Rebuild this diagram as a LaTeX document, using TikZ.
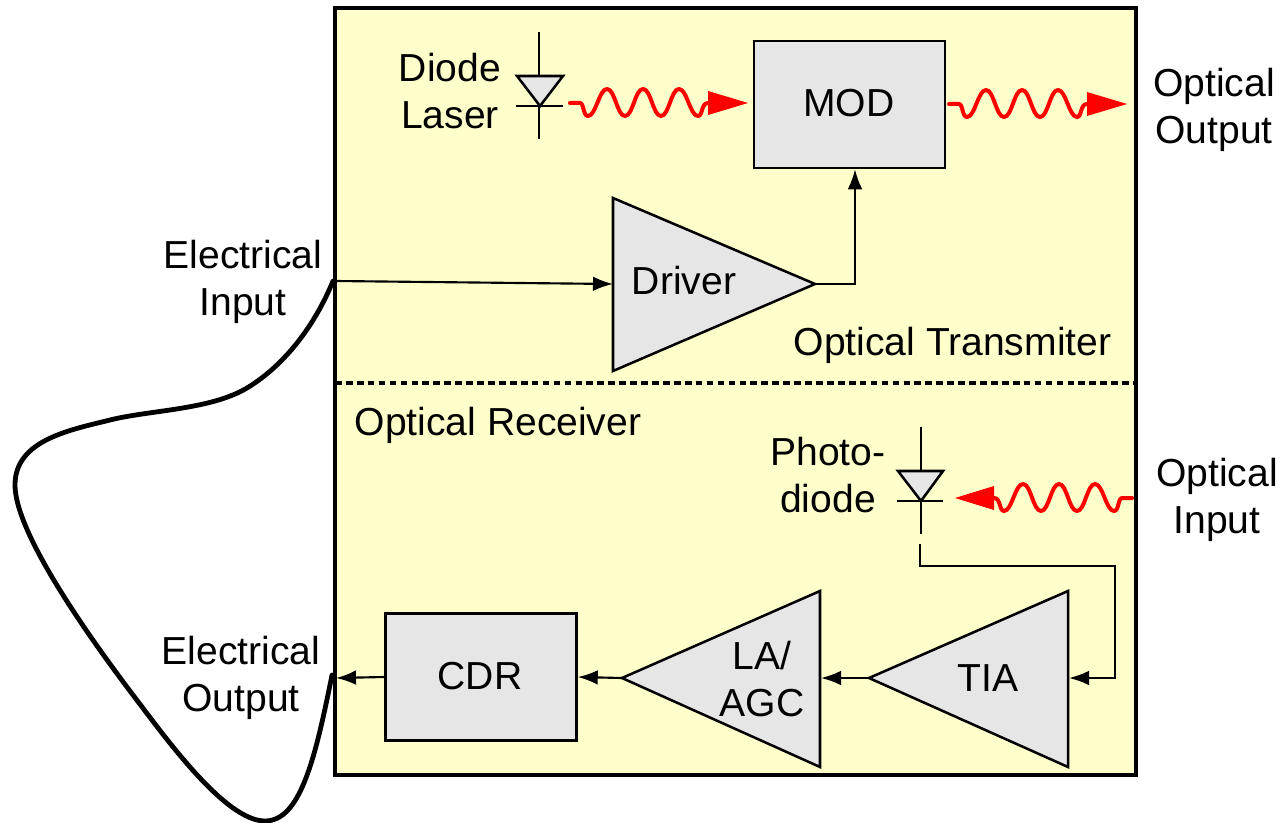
\documentclass[tikz,border=0pt]{standalone}
\usepackage{fontspec}
\setmainfont{Liberation Sans}
\usetikzlibrary{arrows.meta}
\definecolor{panel}{HTML}{FFFFCC}
\definecolor{blockgray}{HTML}{E6E6E6}
\tikzset{
  x=0.75pt,y=-0.75pt,
  label/.style={inner sep=0pt,align=center,font=\fontsize{29.3}{35}\selectfont},
  blockbox/.style={draw=black,fill=blockgray,line width=1.9pt,inner sep=0pt,minimum width=143.25pt,minimum height=95.25pt},
  ampshape/.style={draw=black,fill=blockgray,line width=1.9pt,line join=miter},
  wire/.style={draw=black,line width=1.6pt,-{Latex[length=15pt,width=11pt]}},
  diodeline/.style={draw=black,line width=1.9pt},
  wavered/.style={draw=red,line width=3pt,line cap=round,line join=round},
  loopline/.style={draw=black,line width=3.6pt,line cap=round},
}
\newcommand{\wavecurve}{-- (10,0) .. controls (14,0) and (13,13) .. (18,13)
  .. controls (26,13) and (29,-14) .. (37,-14)
  .. controls (45,-14) and (47,13) .. (55,13)
  .. controls (63,13) and (65,-14) .. (73,-14)
  .. controls (81,-14) and (83,13) .. (91,13)
  .. controls (99,13) and (101,-14) .. (109,-14)
  .. controls (117,-14) and (120,13) .. (128,13)
  .. controls (133,13) and (131,0) .. (138,0)}
\begin{document}
\begin{tikzpicture}
\useasboundingbox (0,0) rectangle (1280,823);
% panel
\draw[fill=panel,draw=black,line width=2.7pt] (335,8) rectangle (1136,775);
\coordinate (inpt) at (335,281);
\coordinate (outpt) at (336,678);
\draw[black,line width=2.7pt,dash pattern=on 5pt off 3.2pt] (335,383) -- (1136,383);
% blocks
\node[blockbox] (mod) at (849.5,104.5) {};
\node[blockbox] (cdr) at (481,677) {};
\node[label] at (849,103) {MOD};
\node[label] at (480,676) {CDR};
% amplifiers
\draw[ampshape] (613,198) -- (613,371) -- (815,284) -- cycle;
\coordinate (drvout) at (815,284);
\coordinate (drvin) at (613,284);
\draw[ampshape] (820,591) -- (820,767) -- (622,678) -- cycle;
\coordinate (laout) at (622,678);
\coordinate (lain) at (821,678);
\draw[ampshape] (1068,591) -- (1068,767) -- (869,678) -- cycle;
\coordinate (tiaout) at (869,678);
\coordinate (tiain) at (1069,678);
\node[label] (drvtxt) at (684,281) {Driver};
\node[label] (latxt) at (762,679) {LA/\\AGC};
\node[label] (tiatxt) at (988,678) {TIA};
% wires
\draw[wire] (inpt) -- (drvin);
\draw[wire] (drvout) -- (855,284) -- (mod.south -| 855,168);
\draw[wire] (cdr.west) -- (outpt);
\draw[wire] (laout) -- (cdr.east);
\draw[wire] (tiaout) -- (lain);
\coordinate (pdlead) at (920,544);
\draw[wire] (pdlead) -- (920,566) -- (1115,566) -- (1115,678) -- (tiain);
% laser diode
\draw[diodeline] (539,32) -- (539,139);
\draw[diodeline,fill=blockgray] (517,76) -- (563,76) -- (540,106) -- cycle;
\draw[diodeline] (516,106) -- (563,106);
% photodiode
\draw[diodeline] (921,427) -- (921,534);
\draw[diodeline,fill=blockgray] (898,471) -- (943,471) -- (921,501) -- cycle;
\draw[diodeline] (897,501) -- (943,501);
% waves
\begin{scope}[shift={(570,103)}]
\draw[wavered] (0,0) \wavecurve;
\fill[red] (138,-12) -- (178,0) -- (138,12) -- cycle;
\end{scope}
\begin{scope}[shift={(949,104)}]
\draw[wavered] (0,0) \wavecurve;
\fill[red] (138,-12) -- (178,0) -- (138,12) -- cycle;
\end{scope}
\begin{scope}[shift={(1132,498)},xscale=-1]
\draw[wavered] (0,0) \wavecurve;
\fill[red] (138,-12) -- (177,0) -- (138,12) -- cycle;
\end{scope}
% loop
\draw[loopline] (333,281) .. controls (315,325) and (285,365) .. (247,388)
  .. controls (210,410) and (150,410) .. (110,420)
  .. controls (70,430) and (15,440) .. (15,485)
  .. controls (15,530) and (80,625) .. (133,695)
  .. controls (165,737) and (225,821) .. (265,821)
  .. controls (300,821) and (315,760) .. (332,675);
% labels
\node[label] (dl) at (450,91) {Diode\\Laser};
\node[label] (oo) at (1214,110) {Optical\\Output};
\node[label] (ei) at (243,282) {Electrical\\Input};
\node[label] (ot) at (952.5,345) {Optical Transmiter};
\node[label] (or) at (498,425) {Optical Receiver};
\node[label] (pd) at (828,475) {Photo-\\diode};
\node[label] (oi) at (1217,500) {Optical\\Input};
\node[label] (eo) at (241,678) {Electrical\\Output};
\end{tikzpicture}
\end{document}
